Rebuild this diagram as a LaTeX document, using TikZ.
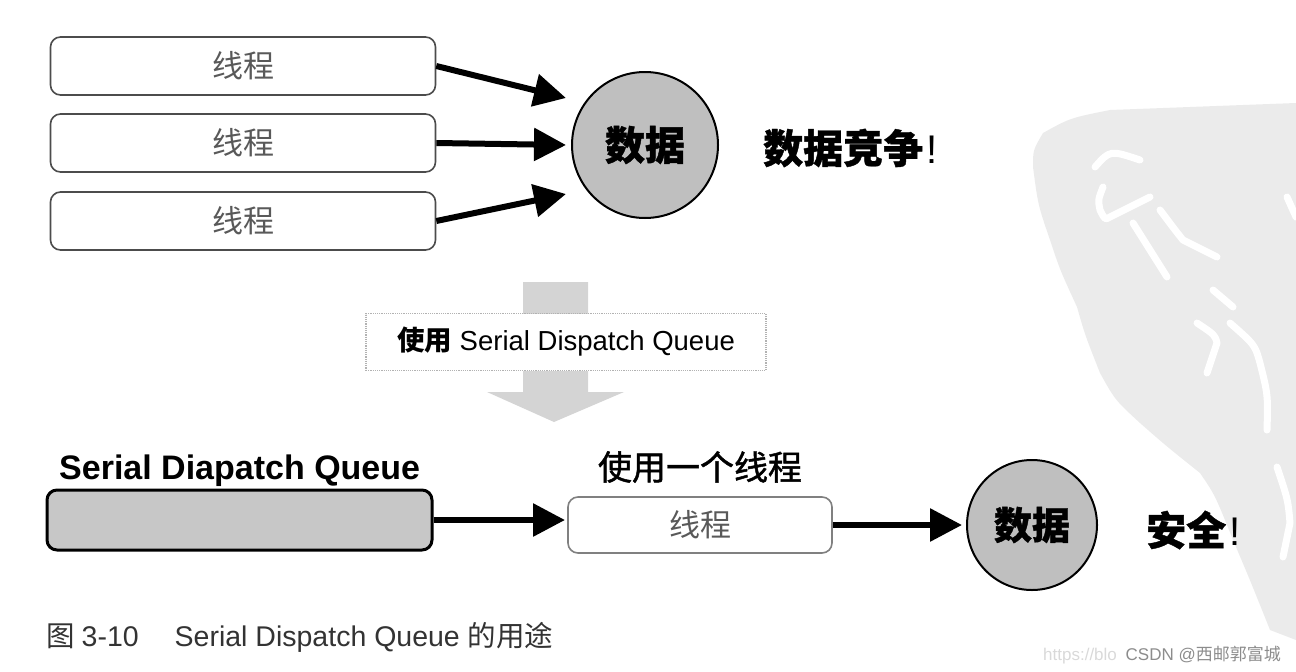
\documentclass[tikz,border=0pt]{standalone}
\usepackage{fontspec}
\setmainfont{Liberation Sans}
\newfontfamily\cjk{Noto Sans CJK SC}
\newfontfamily\cjkmed[FakeBold=1.4]{Noto Sans CJK SC}
\usetikzlibrary{arrows.meta,shapes.geometric}
\begin{document}
\begin{tikzpicture}[x=1pt,y=-1pt,
  thread/.style={draw=black!70, line width=1.6pt, rounded corners=10pt, fill=white,
    minimum width=385pt, minimum height=58pt, inner sep=0pt, text=black!65,
    font=\cjk\fontsize{31}{33}\selectfont},
  queue/.style={draw=black, line width=3pt, rounded corners=10pt, fill=black!22,
    minimum width=385pt, minimum height=60pt, inner sep=0pt},
  data/.style={circle, draw=black, line width=2pt, fill=black!25, minimum size=146pt,
    inner sep=0pt, font=\cjk\bfseries\addfontfeature{FakeBold=1}\fontsize{40}{42}\selectfont},
  conn/.style={line width=6pt, -{Triangle[length=32pt,width=32pt]}},
  stroke/.style={draw=white, line width=7pt, line cap=round, line join=round},
  label/.style={inner sep=0pt, anchor=base west}
]
\useasboundingbox (0,0) rectangle (1296,672);
% background seal watermark
\fill[black!8] (1043,133) .. controls (1070,118) .. (1110,110) -- (1296,103) -- (1296,640)
  -- (1270,630) .. controls (1250,580) .. (1233,540) .. controls (1215,495) .. (1200,473)
  .. controls (1165,445) .. (1140,423) .. controls (1115,400) .. (1100,373)
  .. controls (1085,335) .. (1077,307) .. controls (1060,270) .. (1050,240)
  .. controls (1038,205) .. (1033,167) .. controls (1033,150) .. cycle;
\draw[stroke] (1095,167) .. controls (1110,150) .. (1140,160);
\draw[stroke] (1103,187) .. controls (1098,200) .. (1100,210) .. controls (1105,220) .. (1110,217) -- (1150,197);
\draw[stroke] (1160,210) .. controls (1175,230) .. (1183,240) -- (1217,257);
\draw[stroke] (1133,223) -- (1167,277);
\draw[stroke] (1213,290) -- (1233,307);
\draw[stroke] (1197,323) .. controls (1215,335) .. (1217,343) -- (1207,373);
\draw[stroke] (1230,323) .. controls (1255,345) .. (1260,363) .. controls (1268,395) .. (1267,430);
\draw[stroke] (1287,197) -- (1296,217);
\draw[stroke] (1277,467) .. controls (1288,500) .. (1290,523) -- (1283,557);
% top part
\node[thread] (t1) at (243,66) {线程};
\node[thread] (t2) at (243,143) {线程};
\node[thread] (t3) at (243,221) {线程};
\node[data] (d1) at (645,145) {数据};
\coordinate (e1) at (566,98);
\coordinate (e2) at (566,145);
\coordinate (e3) at (566,194);
\draw[conn] (t1.east) -- (e1);
\draw[conn] (t2.east) -- (e2);
\draw[conn] (t3.east) -- (e3);
\node[anchor=west, inner sep=0pt, font=\cjk\bfseries\addfontfeature{FakeBold=1}\fontsize{40}{42}\selectfont] (race) at (763,148) {数据竞争\hspace{3pt}{\normalfont !}};
% middle block arrow
\fill[black!17] (523,282) -- (588,282) -- (588,392) -- (624,392) -- (554,422) -- (487,392) -- (523,392) -- cycle;
\node[draw=black!30, densely dotted, line width=1.2pt, fill=white, minimum width=400pt,
  minimum height=57pt, inner sep=0pt, font=\fontsize{27.5}{29}\selectfont] (use) at (566,342)
  {{\cjk\bfseries 使用} Serial Dispatch Queue};
% bottom part
\node[label, font=\bfseries\fontsize{34}{36}\selectfont] (sq) at (59,479) {Serial Diapatch Queue};
\node[queue] (q) at (239.5,520) {};
\node[thread, minimum width=264pt, minimum height=56pt, draw=black!50] (t4) at (700,525) {线程};
\node[inner sep=0pt, font=\cjkmed\fontsize{34}{36}\selectfont] (one) at (700,467) {使用一个线程};
\coordinate (e4) at (565,520);
\draw[conn] (q.east) -- (e4);
\node[data, minimum size=130pt, font=\cjk\bfseries\addfontfeature{FakeBold=1}\fontsize{38}{40}\selectfont] (d2) at (1032,525) {数据};
\coordinate (e5) at (962,525);
\draw[conn] (t4.east) -- (e5);
\node[anchor=west, inner sep=0pt, font=\cjk\bfseries\addfontfeature{FakeBold=1}\fontsize{40}{42}\selectfont] (safe) at (1146,530) {安全\hspace{3pt}{\normalfont !}};
% caption
\node[label, text=black!80, font=\fontsize{28.5}{30}\selectfont] (cap) at (46,646)
  {{\cjk 图}\hspace{7pt}3-10\hspace{36pt}Serial Dispatch Queue {\cjk 的用途}};
\node[label, text=black!15, font=\fontsize{17}{19}\selectfont] (url) at (1043,660) {https://blo};
\node[inner sep=0pt, anchor=base east, text=black!45, font=\fontsize{17}{19}\selectfont] (csdn) at (1281,660) {CSDN @{\cjk 西邮郭富城}};
\end{tikzpicture}
\end{document}
